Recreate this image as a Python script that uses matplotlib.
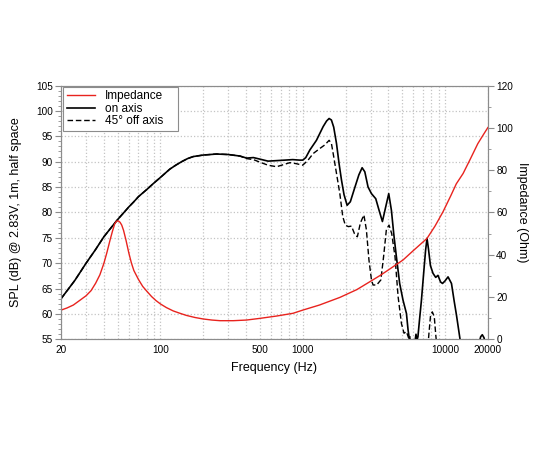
import numpy as np
import matplotlib
matplotlib.use("Agg")
import matplotlib.pyplot as plt
from matplotlib.ticker import FixedLocator, FixedFormatter, LogLocator, MultipleLocator, NullFormatter
from matplotlib.lines import Line2D

plt.rcParams['font.family'] = ['Liberation Sans', 'DejaVu Sans']

# on axis SPL (dB)
freq_on = [20, 25, 30, 35, 40, 45, 50, 55, 60, 65, 70, 80, 90, 100, 116, 128, 141, 155, 170,
           200, 248, 300, 362, 403, 450, 499, 570, 655, 750, 850, 950, 1000, 1050, 1122, 1248,
           1391, 1470, 1532, 1590, 1650, 1726, 1800, 1871, 1950, 2050, 2160, 2310, 2480, 2614,
           2730, 2877, 3040, 3259, 3440, 3630, 3830, 4022, 4200, 4360, 4550, 4800, 5068, 5355,
           5500, 5650, 5800, 6000,
           6150, 6250, 6350, 6450, 6600, 6826, 7100, 7300, 7470, 7650, 7900, 8230, 8600, 8920,
           9300, 9600, 10000, 10500, 11100, 11600, 12030, 12830, 13200,
           17300, 17800, 18280, 18800, 19200]
spl_on = [63.0, 66.6, 70.0, 72.7, 75.2, 77.0, 78.6, 79.9, 81.1, 82.1, 83.1, 84.5, 85.8, 86.9,
          88.5, 89.3, 90.0, 90.6, 91.0, 91.3, 91.5, 91.4, 91.1, 90.7, 90.8, 90.5, 90.1, 90.2,
          90.3, 90.4, 90.3, 90.3, 90.8, 92.3, 94.2, 96.9, 98.0, 98.5, 98.2, 96.8, 93.6, 89.6,
          86.4, 83.5, 81.4, 82.1, 84.7, 87.4, 88.8, 88.0, 85.0, 83.7, 82.7, 80.4, 78.2, 81.1,
          83.7, 80.4, 75.8, 71.3, 66.0, 62.7, 60.1, 56.8, 54.5, 52.0, np.nan,
          54.5, 56.0, 54.8, 55.5, 58.5, 62.7, 68.5, 72.5, 74.9, 72.8, 69.5, 68.0, 67.2, 67.6,
          66.3, 66.0, 66.5, 67.3, 66.0, 62.5, 59.8, 54.5, 52.0,
          54.0, 55.5, 55.9, 55.3, 54.0]

# 45 deg off axis SPL (dB)
freq_off = [20, 25, 30, 35, 40, 45, 50, 55, 60, 65, 70, 80, 90, 100, 116, 128, 141, 155, 170,
            200, 248, 300, 362, 403, 450, 499, 570, 655, 750, 811, 900, 1000, 1090, 1184, 1320,
            1430, 1532, 1590, 1650, 1726, 1822, 1910, 1990, 2090, 2200, 2310, 2420, 2540, 2690,
            2800, 2920, 3040, 3120, 3310, 3540, 3700, 3870, 4040, 4220, 4450, 4680, 4940, 5150,
            5355, 5540, 5650, 5750,
            7550, 7700, 7900, 8140, 8400, 8600, 8800]
spl_off = [63.0, 66.6, 70.0, 72.7, 75.2, 77.0, 78.6, 79.9, 81.1, 82.1, 83.1, 84.5, 85.8, 86.9,
           88.5, 89.3, 90.0, 90.6, 91.0, 91.3, 91.5, 91.4, 91.1, 90.6, 90.4, 89.9, 89.3, 89.0,
           89.5, 89.8, 89.6, 89.3, 90.3, 91.6, 92.6, 93.3, 94.2, 93.6, 91.0, 87.7, 83.7, 79.2,
           77.5, 77.2, 77.3, 75.8, 75.2, 77.9, 79.5, 76.6, 70.6, 66.7, 65.7, 65.7, 66.7, 71.3,
           76.6, 77.5, 75.8, 71.3, 63.4, 58.1, 56.2, 56.5, 55.3, 55.8, 53.0,
           53.0, 56.0, 59.5, 60.4, 59.5, 56.0, 53.0]

# impedance (Ohm)
freq_imp = [20, 22, 24.4, 27.2, 30, 32.5, 35, 37.5, 40, 42, 44.2, 46, 47.7, 49, 50.5, 52, 53.4,
            55, 57.2, 60, 62.5, 65, 70, 75, 80, 86.6, 93, 100, 110, 123, 137, 152, 175, 200,
            230, 262, 325, 402, 500, 655, 855, 1000, 1310, 1822, 2400, 2958, 3500, 4000, 5068,
            6000, 7470, 8500, 9680, 11000, 12000, 13400, 15000, 17000, 18500, 20000]
imp = [13.8, 14.8, 16.2, 18.5, 20.6, 23.0, 26.5, 30.5, 35.9, 41.0, 46.9, 51.2, 54.6, 55.8,
       56.0, 55.3, 54.0, 51.5, 46.9, 40.6, 36.0, 32.5, 28.3, 25.0, 22.8, 20.2, 18.3, 16.7, 15.0,
       13.4, 12.3, 11.3, 10.3, 9.6, 9.1, 8.8, 8.8, 9.1, 9.9, 11.0, 12.3, 13.8, 16.2, 19.8, 23.5,
       27.2, 30.2, 32.8, 37.5, 42.0, 47.7, 53.5, 60.3, 68.0, 73.5, 78.4, 85.0, 92.5, 96.5, 100.1]

xticks = [20, 100, 500, 1000, 10000, 20000]

grey = '#8c8c8c'
grid_col = '#c4c4c4'

fig, ax = plt.subplots(figsize=(5.5, 4.5), dpi=100)
fig.subplots_adjust(left=0.111, right=0.887, bottom=0.246, top=0.81)

ax.plot(freq_on, spl_on, color='black', lw=1.2, zorder=3)
ax.plot(freq_off, spl_off, color='black', lw=1.0, ls=(0, (4, 2)), zorder=3)

ax.set_xscale('log')
ax.set_xlim(20, 20000)
ax.set_ylim(55, 105)
ax.xaxis.set_major_locator(FixedLocator(xticks))
ax.xaxis.set_major_formatter(FixedFormatter([str(t) for t in xticks]))
ax.xaxis.set_minor_locator(LogLocator(base=10, subs=np.arange(1, 10)))
ax.xaxis.set_minor_formatter(NullFormatter())
ax.yaxis.set_major_locator(MultipleLocator(5))
ax.yaxis.set_minor_locator(MultipleLocator(1))

ax.grid(which='both', axis='x', color=grid_col, ls=':', lw=0.9)
ax.grid(which='major', axis='y', color=grid_col, ls=':', lw=0.9)
ax.tick_params(axis='x', which='both', length=0, labelsize=7.2, pad=4)
ax.tick_params(axis='y', which='major', length=4, color=grey, labelsize=7.2, pad=2)
ax.tick_params(axis='y', which='minor', length=2, color=grey)
for s in ax.spines.values():
    s.set_color(grey)

ax.set_xlabel('Frequency (Hz)', fontsize=9, labelpad=5)
ax.set_ylabel('SPL (dB) @ 2.83V, 1m, half space', fontsize=9, labelpad=10)

ax2 = ax.twinx()
ax2.plot(freq_imp, imp, color='#e8231e', lw=1.0, zorder=2)
ax2.set_ylim(0, 120)
ax2.yaxis.set_major_locator(MultipleLocator(20))
ax2.yaxis.set_minor_locator(MultipleLocator(10))
ax2.tick_params(axis='y', which='major', length=4, color=grey, labelsize=7.2, pad=2)
ax2.tick_params(axis='y', which='minor', length=2, color=grey)
for s in ax2.spines.values():
    s.set_color(grey)
ax2.set_ylabel('Impedance (Ohm)', fontsize=9, rotation=270, labelpad=11)

handles = [Line2D([], [], color='#e8231e', lw=1.0),
           Line2D([], [], color='black', lw=1.2),
           Line2D([], [], color='black', lw=1.0, ls=(0, (4, 2)))]
# fixed-width box like the original, text stays left
leg = ax2.legend(handles, ['Impedance', 'on axis', '45° off axis'], loc='upper left',
                 bbox_to_anchor=(0.005, 0.83, 0.27, 0.165), mode='expand',
                 fontsize=8.5, frameon=True, fancybox=False, framealpha=1,
                 edgecolor=grey, borderaxespad=0, handlelength=2.4, handletextpad=0.8,
                 labelspacing=0.05, borderpad=0.3)
leg.get_frame().set_linewidth(0.8)

fig.savefig('out.png', dpi=100)
